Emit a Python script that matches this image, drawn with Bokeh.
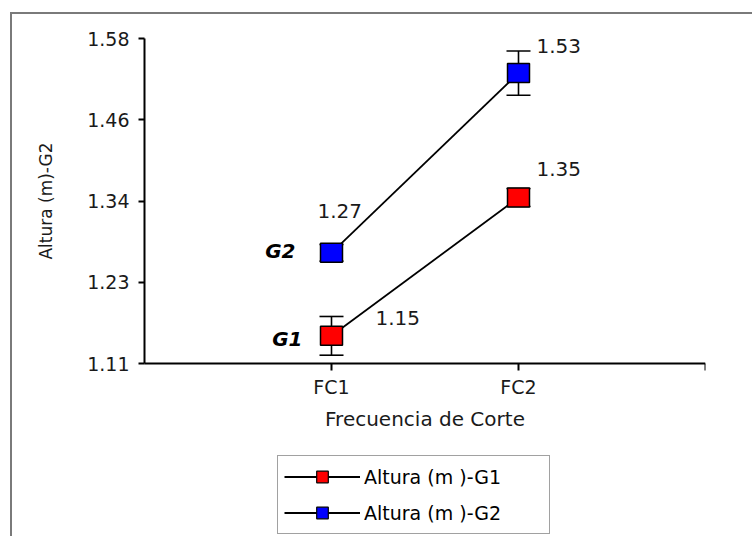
import math
from bokeh.plotting import figure
from bokeh.models import (ColumnDataSource, Range1d, FixedTicker, Whisker, TeeHead,
                          Label, Legend, LegendItem)
from bokeh.embed import file_html
from bokeh.resources import INLINE

# ---- data ----
categories = ["FC1", "FC2"]
g1_values = [1.15, 1.35]
g1_errors = [0.028, 0.013]
g2_values = [1.27, 1.53]
g2_errors = [0.012, 0.032]
series_names = ["Altura (m )-G1", "Altura (m )-G2"]
group_tags = ["G1", "G2"]
y_ticks = [1.11, 1.2275, 1.345, 1.4625, 1.58]
y_tick_labels = ["1.11", "1.23", "1.34", "1.46", "1.58"]
x_title = "Frecuencia de Corte"
y_title = "Altura (m)-G2"

xs = [i + 1 for i in range(len(categories))]
n_slots = len(categories) + 1
x_ticks = xs + [n_slots]
x_tick_labels = categories + [""]

FONT = "DejaVu Sans"
TXT = "#1a1a1a"

# layout: the axes box (0..n_slots, 1.11..1.58) is 561 x 325 px; the frame is
# larger so that tick labels, axis titles and the legend sit inside it.
PLOT_W, PLOT_H = 561, 325
LEFT_PX, TOP_PX = 132, 24
FRAME_W, FRAME_H = LEFT_PX + PLOT_W, 522
y_lo, y_hi = y_ticks[0], y_ticks[-1]
y_per_px = (y_hi - y_lo) / PLOT_H
y_end = y_hi + TOP_PX * y_per_px
y_start = y_end - FRAME_H * y_per_px
x_start = -LEFT_PX * n_slots / PLOT_W

p = figure(frame_width=FRAME_W, frame_height=FRAME_H,
           x_range=Range1d(x_start, n_slots), y_range=Range1d(y_start, y_end),
           output_backend="svg", toolbar_location=None,
           min_border_left=0, min_border_right=47, min_border_top=0, min_border_bottom=0)
p.margin = (12, 0, 0, 10)
p.styles = {"border-top": "2px solid #7a7a7a", "border-left": "2px solid #7a7a7a"}
p.outline_line_color = None
p.xgrid.visible = False
p.ygrid.visible = False
p.background_fill_color = "white"
p.border_fill_color = "white"

# axes
p.yaxis.ticker = FixedTicker(ticks=y_ticks)
p.yaxis.major_label_overrides = dict(zip(y_ticks, y_tick_labels))
p.yaxis.bounds = (y_lo, y_hi)
p.yaxis.fixed_location = 0
p.xaxis.ticker = FixedTicker(ticks=x_ticks)
p.xaxis.major_label_overrides = dict(zip(x_ticks, x_tick_labels))
p.xaxis.bounds = (0, n_slots)
p.xaxis.fixed_location = y_lo
for ax in (p.xaxis[0], p.yaxis[0]):
    ax.axis_line_color = "black"
    ax.axis_line_width = 2
    ax.major_tick_line_color = "black"
    ax.major_tick_line_width = 2
    ax.major_tick_in = 0
    ax.minor_tick_line_color = None
    ax.major_label_text_font = FONT
    ax.major_label_text_color = TXT
p.yaxis.major_tick_out = 6
p.yaxis.major_label_standoff = 9
p.yaxis.major_label_text_font_size = "19px"
p.xaxis.major_tick_out = 7
p.xaxis.major_label_standoff = 5
p.xaxis.major_label_text_font_size = "19px"

# axis titles
p.add_layout(Label(x=0, y=(y_lo + y_hi) / 2, text=y_title, x_offset=-99, angle=math.pi / 2,
                   text_align="center", text_baseline="middle", text_font=FONT,
                   text_font_size="17px", text_color=TXT))
p.add_layout(Label(x=n_slots / 2, y=y_lo, text=x_title, y_offset=-55,
                   text_align="center", text_baseline="middle", text_font=FONT,
                   text_font_size="20px", text_color=TXT))

series = [
    (g1_values, g1_errors, "#ff0000"),
    (g2_values, g2_errors, "#0000ff"),
]
legend_items = []
for (vals, errs, color), name in zip(series, series_names):
    src = ColumnDataSource(dict(
        x=xs, y=vals,
        upper=[v + e for v, e in zip(vals, errs)],
        lower=[v - e for v, e in zip(vals, errs)],
    ))
    w = Whisker(base="x", upper="upper", lower="lower", source=src, dimension="height",
                line_color="black", line_width=1.6, level="underlay",
                upper_head=TeeHead(size=24, line_color="black", line_width=1.6),
                lower_head=TeeHead(size=24, line_color="black", line_width=1.6))
    p.add_layout(w)
    ln = p.line("x", "y", source=src, line_color="black", line_width=1.8)
    sc = p.scatter("x", "y", source=src, marker="square", size=12,
                   fill_color=color, line_color="black", line_width=1.2)
    p.rect("x", "y", source=src, width=22, height=19, width_units="screen",
           height_units="screen", fill_color=color, line_color="black", line_width=1.5)
    legend_items.append(LegendItem(label=name, renderers=[ln, sc]))

# value labels (offsets in screen px)
label_offsets = {
    (0, 0): (44, 18, "left"), (0, 1): (18, 29, "left"),
    (1, 0): (-14, 42, "left"), (1, 1): (18, 27, "left"),
}
for si, (vals, errs, color) in enumerate(series):
    for ci, v in enumerate(vals):
        dx, dy, al = label_offsets[(si, ci)]
        p.add_layout(Label(x=xs[ci], y=v, text=f"{v:.2f}", x_offset=dx, y_offset=dy,
                           text_align=al, text_baseline="middle", text_font=FONT,
                           text_font_size="20px", text_color=TXT))

# group tags next to FC1 points
tag_offsets = [(-29, -3), (-36, 2)]
for si, (vals, errs, color) in enumerate(series):
    dx, dy = tag_offsets[si]
    p.add_layout(Label(x=xs[0], y=vals[0], text=group_tags[si], x_offset=dx, y_offset=dy,
                       text_align="right", text_baseline="middle", text_font=FONT,
                       text_font_size="20px", text_font_style="bold italic", text_color="black"))

legend = Legend(items=legend_items, location=(LEFT_PX + 133, 2), orientation="vertical",
                padding=6, margin=0, spacing=7, glyph_width=76, glyph_height=29,
                label_height=29, label_width=179, label_standoff=4,
                label_text_font=FONT, label_text_font_size="19px", label_text_color="black",
                border_line_color="#444444", border_line_width=1.5,
                background_fill_color="white", background_fill_alpha=1.0)
p.add_layout(legend, "center")

open("out.html", "w").write(file_html(p, INLINE))
